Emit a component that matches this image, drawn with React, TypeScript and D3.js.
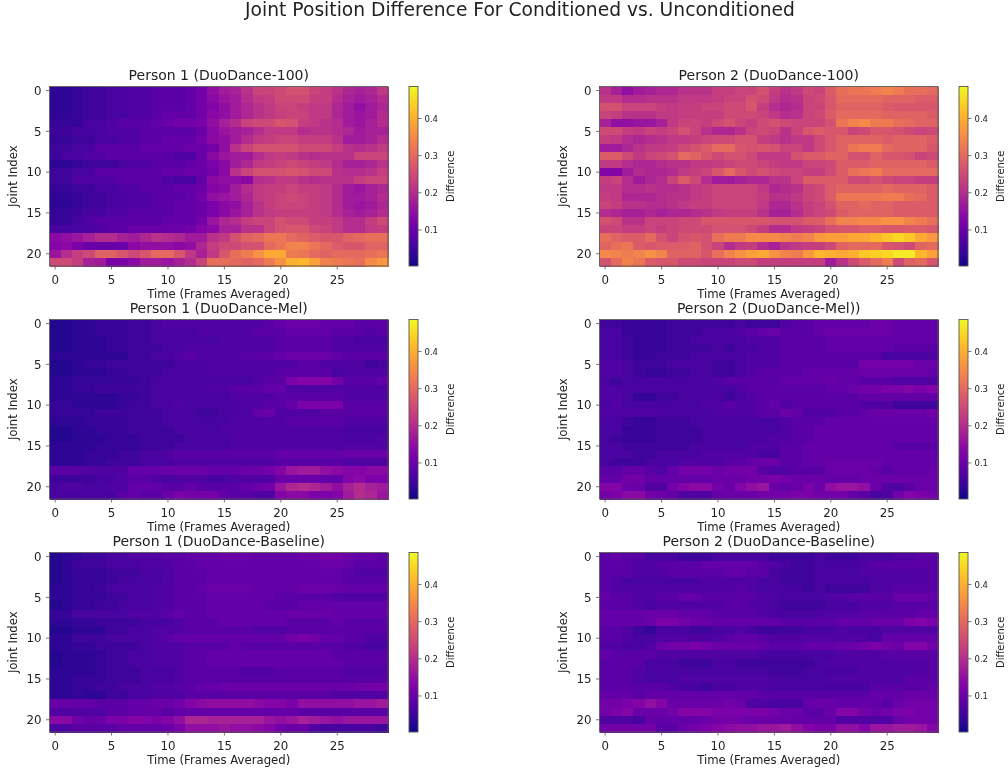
import React from "react";
import * as d3 from "d3";

const figureTitle = "Joint Position Difference For Conditioned vs. Unconditioned";
const panelTitles = [
  "Person 1 (DuoDance-100)", "Person 2 (DuoDance-100)",
  "Person 1 (DuoDance-Mel)", "Person 2 (DuoDance-Mel))",
  "Person 1 (DuoDance-Baseline)", "Person 2 (DuoDance-Baseline)",
];
const xTicks = [0, 5, 10, 15, 20, 25];
const yTicks = [0, 5, 10, 15, 20];
const colorTicks = [0.1, 0.2, 0.3, 0.4];
const colorDomain = [0.003, 0.486];

// Values in hundredths, one list per joint, 30 time steps each.
const p1Duo100 = [
[3,3,4,5,5,6,6,7,7,8,8,8,9,11,15,17,18,21,24,24,25,26,26,24,23,21,19,18,19,22],
[3,3,4,5,5,6,6,7,7,8,8,8,9,11,14,16,17,20,22,23,25,25,25,23,23,20,18,17,18,20],
[3,3,4,5,5,6,6,7,7,8,8,8,9,11,13,15,17,19,21,22,24,24,23,22,22,19,17,15,17,19],
[3,3,4,5,5,6,6,7,7,8,9,9,9,11,14,15,17,19,21,22,23,24,24,22,22,19,17,16,17,20],
[4,4,4,6,6,7,8,8,8,9,10,11,11,12,15,18,20,24,25,25,27,26,23,22,21,20,17,16,18,20],
[5,5,6,6,6,7,7,7,8,8,8,8,8,10,14,16,17,18,20,22,22,22,20,21,21,20,19,17,18,18],
[4,4,5,5,6,6,7,7,8,8,9,9,9,11,14,15,17,20,22,23,24,24,23,23,23,21,17,17,18,20],
[5,5,6,6,8,8,8,8,9,9,9,9,10,10,11,15,21,24,26,26,26,26,25,25,25,23,21,20,21,22],
[5,6,6,7,7,8,8,8,8,8,8,7,7,10,14,16,17,17,20,22,23,22,21,20,21,21,21,24,24,24],
[3,3,4,5,5,5,6,7,7,8,8,8,9,10,12,14,17,19,22,23,24,25,24,23,22,20,18,18,19,21],
[5,5,6,6,8,8,8,8,8,8,9,9,10,10,11,14,21,24,26,26,26,27,26,25,25,21,20,20,21,23],
[5,5,7,7,7,7,8,8,8,8,7,6,6,9,14,15,15,14,20,21,22,22,21,20,21,21,21,23,24,24],
[4,4,5,5,6,6,7,7,8,8,8,9,9,10,13,14,17,20,22,23,23,24,23,23,22,20,17,16,18,19],
[3,3,4,5,5,6,6,7,7,8,8,8,9,11,15,16,17,19,22,23,24,25,24,23,22,20,17,17,18,20],
[3,3,4,5,5,6,6,7,7,8,8,9,9,10,12,14,15,18,21,23,24,24,24,23,22,20,17,16,17,19],
[4,4,5,6,6,7,7,8,8,8,8,9,9,10,12,14,16,18,21,22,23,23,23,23,22,20,18,17,18,20],
[4,4,6,7,8,8,8,8,8,8,9,9,9,11,16,19,20,23,24,24,26,25,25,23,23,22,20,20,23,25],
[6,6,6,6,7,8,8,10,10,10,10,10,11,13,14,18,18,21,21,24,26,27,27,25,24,22,20,20,22,23],
[14,15,16,18,20,20,18,17,19,21,20,19,17,17,21,22,26,29,30,32,32,30,29,28,27,27,29,30,31,31],
[13,14,12,10,10,10,10,14,15,15,15,14,15,19,23,25,25,26,26,30,32,34,34,32,30,28,27,27,29,29],
[16,20,23,25,29,29,27,25,27,30,30,27,22,18,22,27,31,33,36,39,39,33,32,30,29,30,30,30,31,32],
[25,25,23,18,17,12,12,14,17,17,16,18,20,24,31,31,30,29,30,33,36,40,41,38,34,33,32,31,35,37],
];
const p2Duo100 = [
[21,18,15,17,18,19,19,21,21,21,23,23,24,24,26,23,21,22,25,24,28,31,32,32,33,34,33,31,31,30],
[22,22,20,20,21,21,21,22,22,22,23,24,24,26,25,22,20,21,24,25,27,30,30,30,30,29,29,29,28,28],
[26,26,24,24,24,23,22,23,23,24,24,25,25,27,23,20,19,20,24,24,27,29,29,29,29,28,27,27,27,27],
[24,23,21,21,21,22,22,23,23,23,23,25,25,25,24,22,20,21,24,25,28,30,30,30,30,29,29,29,29,28],
[18,15,15,16,16,18,22,24,24,23,25,26,24,23,25,26,25,24,24,24,26,32,34,35,33,33,31,30,29,29],
[25,25,23,22,24,23,24,26,24,21,19,19,21,24,25,24,21,24,27,28,27,27,24,25,27,27,26,25,24,25],
[23,22,20,19,20,21,22,22,23,24,25,25,26,26,23,22,21,22,22,25,27,29,29,29,29,28,29,29,29,28],
[17,17,19,21,22,22,23,25,26,28,30,30,27,26,27,26,24,24,22,25,27,29,32,33,33,30,29,29,29,27],
[28,28,25,22,24,25,26,30,29,27,25,26,26,25,22,22,22,26,28,28,29,29,26,26,29,27,27,26,24,25],
[22,22,20,19,19,20,21,21,22,22,23,24,25,25,24,23,22,22,24,24,25,28,28,28,29,29,29,29,29,28],
[13,13,17,20,19,19,20,22,23,24,27,30,27,25,26,25,24,24,23,23,25,28,31,32,33,30,30,30,30,30],
[23,24,20,17,19,20,24,28,25,20,17,17,18,19,19,21,21,24,28,28,28,28,25,25,26,25,24,24,23,23],
[22,22,20,20,21,20,20,21,22,23,24,24,24,24,22,19,20,21,24,25,28,29,29,29,29,30,29,29,29,28],
[23,22,19,19,19,20,21,21,22,23,24,24,24,24,23,21,21,22,24,25,28,32,32,32,32,33,33,31,30,28],
[24,23,21,21,20,20,21,22,23,23,24,24,24,24,22,19,19,21,23,24,26,29,29,30,29,29,28,28,28,28],
[20,19,18,18,19,18,19,19,20,21,22,23,23,23,21,18,18,20,23,24,25,28,29,29,29,29,28,28,28,28],
[26,25,21,21,24,24,24,25,25,27,27,27,27,27,27,26,26,26,28,28,31,34,34,35,35,36,36,34,33,31],
[24,24,23,23,24,23,24,25,25,25,26,26,26,25,23,20,20,22,23,24,26,27,27,28,28,27,27,28,28,27],
[31,29,28,28,30,26,24,26,27,26,31,33,33,35,35,35,34,33,34,37,38,38,39,39,41,43,45,43,39,37],
[29,31,32,28,27,28,28,28,29,26,24,20,22,23,20,18,21,22,23,23,25,29,30,30,30,27,26,25,29,30],
[35,34,33,34,36,34,29,29,29,27,31,34,36,38,39,36,34,33,37,41,40,39,40,43,44,45,47,47,41,38],
[26,30,34,32,28,27,27,25,25,24,24,24,25,25,23,23,23,23,23,23,17,21,25,28,30,33,25,29,30,27],
];
const p1Mel = [
[2,2,3,3,4,4,4,5,5,6,7,7,7,7,7,7,7,7,7,8,9,10,10,10,9,9,9,8,8,8],
[2,2,3,3,4,4,4,5,5,6,6,6,6,7,7,7,7,7,8,8,8,9,9,9,9,8,8,8,7,8],
[2,2,3,3,3,4,4,5,5,6,6,6,6,6,6,7,7,7,7,7,8,8,8,8,8,7,7,6,6,6],
[2,2,3,3,3,4,4,5,5,5,6,6,7,7,7,7,7,7,7,7,8,8,8,8,8,7,7,7,7,7],
[3,3,3,3,3,3,3,5,5,6,6,7,8,7,7,7,7,8,8,8,9,10,10,10,10,9,8,8,8,8],
[2,2,3,4,4,5,5,5,5,5,5,6,6,6,7,7,7,7,7,7,7,7,8,8,7,7,7,7,5,6],
[2,2,3,3,3,4,4,5,5,5,6,6,6,6,7,7,7,7,7,7,8,8,8,8,8,6,7,7,7,7],
[3,3,4,4,4,4,4,4,5,6,6,6,6,6,6,6,6,6,7,8,8,12,13,13,13,11,8,8,8,9],
[3,3,4,4,5,5,5,5,5,6,6,6,6,6,7,7,8,8,8,9,9,7,7,7,7,7,7,7,7,7],
[3,3,3,3,3,3,4,4,5,6,6,6,6,6,6,6,7,7,7,7,8,8,8,8,8,8,7,7,7,7],
[4,4,3,3,3,3,4,5,5,6,6,7,6,6,6,6,6,7,7,8,8,9,12,12,12,12,8,8,8,8],
[4,4,4,4,5,5,5,5,5,5,6,6,6,5,5,6,6,7,9,10,7,7,7,7,8,8,8,8,8,8],
[3,3,3,4,4,4,4,5,5,5,6,6,6,6,6,6,7,7,7,7,7,8,8,8,8,8,7,7,7,7],
[2,2,3,3,4,4,4,5,5,5,5,6,6,6,6,7,7,7,7,7,7,7,7,7,7,7,6,6,6,6],
[2,2,3,3,3,4,4,4,5,5,5,5,6,6,6,6,7,7,7,7,7,7,7,7,7,7,6,6,6,7],
[3,3,3,3,4,4,4,4,5,5,5,6,6,6,6,6,7,7,7,7,7,7,7,7,7,7,7,7,7,7],
[3,3,3,4,4,4,5,5,6,6,7,8,8,8,8,8,8,8,8,8,9,9,9,9,9,9,10,10,10,10],
[3,3,3,4,4,5,5,5,6,6,6,7,7,7,7,7,7,7,7,7,8,8,8,8,8,8,7,7,7,7],
[8,8,8,7,7,7,7,9,9,9,10,10,10,10,9,9,9,10,10,11,13,16,17,17,15,14,13,13,14,14],
[5,5,5,5,6,6,7,8,8,7,6,7,7,7,6,6,7,7,7,7,10,10,10,10,9,9,13,14,12,12],
[6,7,7,6,6,7,7,9,9,9,8,8,9,8,8,8,8,9,10,11,16,19,20,19,17,15,18,20,18,17],
[6,6,6,6,6,6,8,9,8,8,10,12,11,11,11,9,8,8,7,7,13,14,14,12,12,13,17,20,19,16],
];
const p2Mel = [
[5,5,4,4,4,4,5,5,5,5,5,5,6,5,5,5,7,8,8,9,9,9,9,9,10,10,9,9,9,9],
[6,6,4,4,4,4,5,5,5,6,6,6,7,8,9,10,8,8,8,9,10,10,10,10,10,10,9,9,9,9],
[6,6,5,4,4,4,5,5,6,6,6,6,6,7,7,7,8,8,8,8,9,9,9,9,9,9,9,9,9,9],
[6,6,5,4,4,4,5,5,5,5,6,5,6,6,7,7,8,8,8,8,9,9,9,9,9,9,8,8,8,8],
[6,6,5,4,4,5,5,5,6,6,6,6,6,7,7,7,8,8,8,8,8,8,8,8,8,6,6,6,6,7],
[7,7,6,5,5,5,6,6,6,6,5,5,6,7,7,7,8,8,8,8,8,8,8,11,11,11,11,11,10,10],
[7,7,6,5,4,4,5,5,6,6,5,5,6,7,8,8,8,8,9,9,9,9,9,10,10,10,10,10,10,9],
[6,5,6,6,6,6,6,6,6,6,7,8,8,8,8,8,9,9,9,9,10,9,9,8,8,8,7,7,7,7],
[7,7,6,6,6,6,6,6,6,6,6,6,7,8,8,8,8,8,8,8,9,9,10,11,11,12,12,13,12,13],
[7,7,6,4,4,5,5,6,6,6,6,5,6,7,8,8,8,8,8,8,8,8,8,9,9,9,9,9,9,9],
[6,7,6,6,6,6,6,6,6,7,7,8,7,7,8,9,7,8,8,8,8,8,8,7,7,7,5,5,5,5],
[7,7,7,7,7,6,6,6,6,6,7,7,7,7,8,8,10,9,7,7,7,8,8,9,10,10,10,10,10,11],
[6,6,5,4,4,5,5,5,6,6,6,6,6,6,6,6,7,8,8,8,9,9,9,9,9,9,9,9,9,9],
[6,6,4,4,4,5,5,5,5,6,6,6,6,6,6,6,7,8,8,9,9,9,9,9,9,9,9,9,9,9],
[6,5,4,4,4,5,5,5,5,6,6,6,6,6,6,7,7,8,8,9,9,9,9,9,9,9,9,9,9,9],
[6,6,5,5,5,5,5,5,6,6,6,6,6,7,7,7,8,8,9,9,9,9,9,9,9,9,8,8,8,8],
[6,6,6,5,5,6,6,6,6,7,7,7,7,7,6,6,8,8,9,9,9,9,9,9,9,9,9,9,9,9],
[6,5,5,5,6,6,6,7,7,7,7,8,8,9,10,10,8,8,9,9,10,10,10,10,10,9,9,9,9,9],
[8,8,9,9,8,7,9,11,11,11,10,11,11,11,8,7,7,8,8,8,10,10,10,10,9,8,9,9,9,10],
[9,9,11,11,9,9,9,9,9,9,10,10,10,11,11,12,11,10,10,10,9,9,9,10,10,10,10,10,10,10],
[13,13,10,10,7,7,11,13,14,14,11,10,13,15,16,10,9,10,12,10,15,16,16,15,10,7,7,8,10,10],
[11,12,14,14,11,10,9,7,7,7,9,10,10,10,11,11,11,12,12,11,11,11,9,8,6,7,11,13,12,11],
];
const p1Base = [
[2,3,4,5,5,6,6,7,7,7,8,8,9,9,9,10,10,10,9,9,9,9,10,10,11,11,10,9,9,8],
[2,3,5,5,5,6,6,6,7,7,7,8,8,9,9,9,9,9,9,9,9,9,9,9,10,10,9,8,8,8],
[2,3,4,4,4,5,5,5,6,6,7,8,8,8,9,9,9,9,9,9,9,9,9,9,9,9,8,7,7,7],
[2,3,4,4,4,5,6,6,6,6,7,8,8,8,9,9,9,9,9,9,9,9,9,9,9,9,8,8,8,8],
[3,3,4,4,5,6,6,6,6,7,7,8,8,9,10,10,10,10,9,9,9,9,10,10,10,10,9,9,9,9],
[3,3,4,4,4,5,5,6,6,7,7,8,8,8,9,9,9,9,9,9,8,8,8,8,8,7,7,7,7,7],
[2,3,4,4,5,5,6,6,6,7,7,8,8,8,9,9,9,9,9,8,8,8,9,9,9,9,9,9,9,9],
[4,4,6,6,6,6,6,7,7,7,8,9,8,8,9,9,9,9,9,9,9,10,10,10,10,9,9,9,9,9],
[3,3,4,4,5,5,5,5,6,6,6,7,8,8,8,9,9,9,9,9,9,8,8,8,8,9,8,8,8,8],
[2,2,3,3,3,5,5,6,6,7,7,7,8,8,8,8,8,8,7,7,7,8,8,8,8,8,8,8,8,8],
[3,3,5,5,5,6,6,6,6,7,8,9,9,9,9,9,9,9,9,9,9,11,12,11,9,9,8,8,7,7],
[3,3,4,4,5,5,5,5,6,7,7,7,8,8,8,8,9,8,8,8,8,8,8,8,8,8,7,7,6,6],
[2,3,3,3,4,5,5,6,6,7,7,7,8,8,9,9,9,9,9,9,9,9,9,9,9,8,8,8,8,8],
[2,3,3,3,4,5,5,6,6,7,7,7,8,8,9,9,9,9,9,9,9,9,9,9,9,9,8,8,8,8],
[3,3,3,3,4,5,5,5,6,6,6,7,8,8,8,8,8,7,7,7,8,8,8,8,8,8,7,7,7,7],
[3,3,4,4,4,5,5,5,6,6,6,7,8,8,8,8,8,8,8,8,8,8,8,8,8,8,8,8,8,8],
[3,3,4,4,5,5,6,6,6,7,7,8,8,9,9,10,10,10,10,10,10,10,10,10,10,10,10,11,11,11],
[3,3,4,3,3,5,5,6,6,7,7,7,8,8,8,8,8,8,8,8,8,8,8,8,8,7,7,7,7,7],
[10,10,9,9,8,8,8,9,9,10,10,11,13,14,15,15,15,15,14,13,13,12,15,15,15,15,15,16,16,17],
[7,7,7,7,7,8,8,9,9,9,8,9,9,9,9,9,9,9,9,9,9,9,8,8,8,8,8,8,8,8],
[14,14,11,9,10,12,12,13,13,12,13,15,19,19,18,18,18,18,18,16,15,16,18,17,16,15,16,16,16,16],
[6,7,8,8,8,8,9,9,9,9,10,12,15,15,15,16,15,15,14,13,11,10,10,7,6,6,6,6,6,5],
];
const p2Base = [
[8,9,8,8,6,6,6,5,5,5,6,6,6,6,6,5,5,5,5,6,5,5,5,6,6,6,7,7,8,8],
[8,8,8,7,7,8,8,8,8,9,9,9,9,9,8,7,6,5,5,6,6,6,6,7,8,8,8,8,8,8],
[8,8,8,7,7,7,8,8,8,8,8,9,9,8,8,6,5,5,5,6,6,6,6,7,7,7,7,7,7,8],
[8,7,6,6,6,6,6,6,6,7,7,7,7,7,6,6,5,5,5,6,6,6,6,6,7,7,7,7,7,8],
[8,7,7,7,7,7,7,7,7,7,7,7,8,7,6,6,6,6,5,6,5,5,5,5,7,7,8,8,8,8],
[9,8,8,7,7,8,8,9,9,8,8,8,8,8,7,7,6,6,6,6,7,7,8,8,8,8,10,10,10,9],
[8,8,8,7,6,7,7,7,7,7,7,8,8,7,7,6,5,5,5,5,6,6,6,7,7,7,8,8,8,8],
[9,9,9,9,10,10,10,9,9,9,8,8,8,8,7,6,6,6,6,7,7,7,7,8,8,8,8,8,9,9],
[9,9,9,9,10,12,12,11,10,10,9,9,9,9,9,9,8,8,8,8,8,9,9,9,10,10,10,12,13,12],
[8,8,7,5,4,6,6,6,5,5,6,6,7,6,5,5,5,5,6,6,6,7,6,6,6,7,7,7,7,7],
[8,8,7,6,6,7,7,7,7,7,7,8,9,9,8,7,7,7,7,7,7,7,7,7,6,9,9,9,9,9],
[7,7,6,6,7,10,11,11,12,11,10,10,10,10,9,8,8,8,9,9,9,10,10,11,12,11,10,13,13,11],
[9,8,8,8,8,7,7,7,7,7,7,7,7,7,6,6,6,6,6,6,6,7,7,7,7,8,8,8,8,8],
[8,8,8,8,6,6,6,5,5,5,6,6,5,5,5,5,5,5,5,6,7,7,7,7,7,7,7,7,7,8],
[8,8,8,7,6,6,6,6,6,6,6,6,6,6,6,5,5,5,6,6,6,6,6,7,7,7,7,7,7,8],
[8,8,8,7,6,6,6,7,7,7,7,7,7,7,7,6,6,6,6,6,7,7,7,7,7,7,7,8,8,8],
[8,8,8,8,8,8,7,6,6,5,6,6,7,7,7,6,6,6,6,6,6,6,6,6,8,8,8,8,8,9],
[9,9,9,8,9,9,9,9,9,9,9,9,9,9,8,8,8,8,8,8,8,8,8,8,9,9,9,10,10,10],
[11,11,12,13,15,13,10,10,10,10,10,11,10,7,7,6,6,6,9,10,10,9,9,9,9,8,10,11,11,11],
[11,12,13,10,10,10,11,13,13,13,12,12,12,12,12,11,10,10,8,8,10,13,13,11,10,11,12,12,11,11],
[7,7,7,6,9,9,9,9,9,10,11,11,11,10,10,10,10,9,9,9,9,7,7,7,7,7,10,11,11,11],
[11,11,11,11,11,8,8,10,11,12,13,14,15,15,16,16,17,15,13,12,12,15,15,13,16,16,17,17,16,13],
];
const panelValues = [p1Duo100, p2Duo100, p1Mel, p2Mel, p1Base, p2Base];

const FONT = "'DejaVu Sans', sans-serif";
const INK = "#222";
const SPINE = "#555";
const colLeft = [49.5, 599.5];
const rowTop = [86.5, 319.5, 552.5];
const plotW = 338.5;
const plotH = 179.5;
const barOffset = 359.5;
const barW = 9;
const color = d3.scaleSequential(d3.interpolatePlasma).domain(colorDomain);

function Panel({ left, top, title, values, id }: any) {
  const x = d3.scaleLinear().domain([-0.5, 29.5]).range([0, plotW]);
  const y = d3.scaleLinear().domain([-0.5, 21.5]).range([0, plotH]);
  const bar = d3.scaleLinear().domain(colorDomain).range([plotH, 0]);
  const stops = d3.range(0, 1.001, 0.05);
  return (
    <g transform={`translate(${left},${top})`} fontFamily={FONT} fill={INK}>
      <text x={plotW / 2} y={-6.5} textAnchor="middle" fontSize={14}>{title}</text>
      <g shapeRendering="crispEdges">
        {values.map((row: number[], r: number) =>
          row.map((v: number, c: number) => (
            <rect key={`${r}-${c}`} x={x(c - 0.5)} y={y(r - 0.5)}
              width={x(c + 0.5) - x(c - 0.5) + 0.5} height={y(r + 0.5) - y(r - 0.5) + 0.5}
              fill={color(v / 100)} />
          ))
        )}
      </g>
      <rect width={plotW} height={plotH} fill="none" stroke={SPINE} strokeWidth={0.9} />
      {xTicks.map((t) => (
        <g key={t} transform={`translate(${x(t)},${plotH})`}>
          <line y2={3.5} stroke={SPINE} strokeWidth={0.8} />
          <text y={17.5} textAnchor="middle" fontSize={11.8}>{t}</text>
        </g>
      ))}
      {yTicks.map((t) => (
        <g key={t} transform={`translate(0,${y(t)})`}>
          <line x2={-3.5} stroke={SPINE} strokeWidth={0.8} />
          <text x={-8} dy="0.36em" textAnchor="end" fontSize={11.8}>{t}</text>
        </g>
      ))}
      <text x={plotW / 2} y={plotH + 32} textAnchor="middle" fontSize={11.7}>Time (Frames Averaged)</text>
      <text transform={`translate(-32.5,${plotH / 2}) rotate(-90)`} textAnchor="middle" fontSize={11.7}>Joint Index</text>
      <g transform={`translate(${barOffset},0)`}>
        <defs>
          <linearGradient id={id} x1="0" y1="1" x2="0" y2="0">
            {stops.map((s) => (
              <stop key={s} offset={s} stopColor={d3.interpolatePlasma(s)} />
            ))}
          </linearGradient>
        </defs>
        <rect width={barW} height={plotH} fill={`url(#${id})`} stroke={SPINE} strokeWidth={0.9} />
        {colorTicks.map((t) => (
          <g key={t} transform={`translate(${barW},${bar(t)})`}>
            <line x2={3.5} stroke={SPINE} strokeWidth={0.8} />
            <text x={6.5} dy="0.36em" fontSize={8.5}>{t.toFixed(1)}</text>
          </g>
        ))}
        <text transform={`translate(45,${plotH / 2}) rotate(-90)`} textAnchor="middle" fontSize={10}>Difference</text>
      </g>
    </g>
  );
}

export default function App() {
  return (
    <svg width={1008} height={772} viewBox="0 0 1008 772"
      style={{ position: "absolute", left: 0, top: 0, background: "#fff", filter: "blur(0.45px)" }}>
      <text x={520} y={16} textAnchor="middle" fontFamily={FONT} fontSize={18.7} fill={INK}>{figureTitle}</text>
      {panelValues.map((values, i) => (
        <Panel key={i} id={`plasma-${i}`} left={colLeft[i % 2]} top={rowTop[Math.floor(i / 2)]}
          title={panelTitles[i]} values={values} />
      ))}
    </svg>
  );
}
